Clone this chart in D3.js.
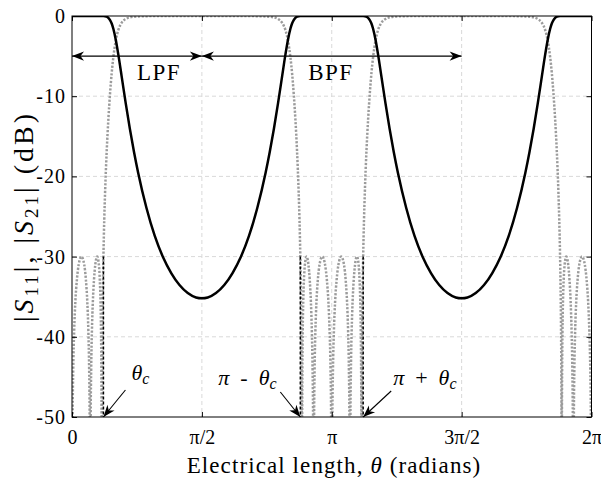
<!DOCTYPE html>
<html><head><meta charset="utf-8">
<script src="https://cdn.jsdelivr.net/npm/d3@7"></script>
<style>
html,body{margin:0;padding:0;background:#fff;}
svg{display:block;}
</style></head>
<body>
<svg id="c" width="601" height="481"></svg>
<script>
// ---------- DATA ----------
const xTickVals = [0, Math.PI/2, Math.PI, 3*Math.PI/2, 2*Math.PI];
const xTickLabels = ["0", "π/2", "π", "3π/2", "2π"];
const yTickVals = [0, -10, -20, -30, -40, -50];
const yTickLabels = ["0", "-10", "-20", "-30", "-40", "-50"];

// |S21| (dB), black solid
const s21Theta = [0,0.38,0.40,0.42,0.44,0.46,0.48,0.50,0.53,0.56,0.60,0.65,0.70,0.75,0.80,0.90,1.00,1.10,1.20,1.30,1.40,1.50,1.5708,
 1.6416,1.7416,1.8416,1.9416,2.0416,2.1416,2.2416,2.3416,2.3916,2.4416,2.4916,2.5416,2.5816,2.6116,2.6416,2.6616,2.6816,2.7016,2.7216,2.7416,2.7616,3.1416,
 3.5216,3.5416,3.5616,3.5816,3.6016,3.6216,3.6416,3.6716,3.7016,3.7416,3.7916,3.8416,3.8916,3.9416,4.0416,4.1416,4.2416,4.3416,4.4416,4.5416,4.6416,4.7124,
 4.7832,4.8832,4.9832,5.0832,5.1832,5.2832,5.3832,5.4832,5.5332,5.5832,5.6332,5.6832,5.7232,5.7532,5.7832,5.8032,5.8232,5.8432,5.8632,5.8832,5.9032,6.2832];
const s21Db = [0,0,-0.03,-0.09,-0.23,-0.50,-0.94,-1.59,-2.99,-4.79,-7.49,-10.90,-14.08,-16.96,-19.54,-23.91,-27.39,-30.05,-32.05,-33.55,-34.55,-35.1,-35.2,
 -35.1,-34.55,-33.55,-32.05,-30.05,-27.39,-23.91,-19.54,-16.96,-14.08,-10.90,-7.49,-4.79,-2.99,-1.59,-0.94,-0.50,-0.23,-0.09,-0.03,0,0,
 0,-0.03,-0.09,-0.23,-0.50,-0.94,-1.59,-2.99,-4.79,-7.49,-10.90,-14.08,-16.96,-19.54,-23.91,-27.39,-30.05,-32.05,-33.55,-34.55,-35.1,-35.2,
 -35.1,-34.55,-33.55,-32.05,-30.05,-27.39,-23.91,-19.54,-16.96,-14.08,-10.90,-7.49,-4.79,-2.99,-1.59,-0.94,-0.50,-0.23,-0.09,-0.03,0,0];

// |S11| (dB), gray dotted
const s11Theta = [
 0.0000,0.0022,0.0074,0.0148,0.0260,0.0407,0.0591,0.0810,0.1149,0.1478,0.1683,0.1848,0.1978,0.2074,0.2136,0.2179,0.2198,
 0.2216,0.2258,0.2319,0.2408,0.2523,0.2661,0.2819,0.3047,0.3250,0.3363,0.3449,0.3511,0.3553,0.3579,0.3597,0.3606,
 0.3614,0.3629,0.3651,0.3682,0.3717,0.3752,0.3782,0.3800,
 0.3900,0.4000,0.4200,0.4400,0.4600,0.4800,0.5000,0.5300,0.5600,0.6000,0.6500,0.7000,0.8000,0.9000,1.0000,1.5708,
 2.1416,2.2416,2.3416,2.4416,2.4916,2.5416,2.5816,2.6116,2.6416,2.6616,2.6816,2.7016,2.7216,2.7416,2.7516,2.7616,
 2.7634,2.7664,2.7699,2.7734,2.7765,2.7787,2.7802,2.7810,2.7819,2.7837,2.7863,2.7905,2.7967,2.8053,2.8166,2.8369,
 2.8597,2.8755,2.8893,2.9008,2.9097,2.9158,2.9200,2.9218,2.9237,2.9280,2.9342,2.9438,2.9568,2.9733,2.9938,3.0267,
 3.0606,3.0825,3.1009,3.1156,3.1268,3.1342,3.1394,3.1416,3.1438,3.1490,3.1564,3.1676,3.1823,3.2007,3.2226,3.2565,
 3.2894,3.3099,3.3264,3.3394,3.3490,3.3552,3.3595,3.3614,3.3632,3.3674,3.3735,3.3824,3.3939,3.4077,3.4235,3.4463,
 3.4666,3.4779,3.4865,3.4927,3.4969,3.4995,3.5013,3.5022,3.5030,3.5045,3.5067,3.5098,3.5133,3.5168,3.5198,3.5216,
 3.5316,3.5416,3.5616,3.5816,3.6016,3.6216,3.6416,3.6716,3.7016,3.7416,3.7916,3.8416,3.9416,4.0416,4.1416,4.7124,
 5.2832,5.3832,5.4832,5.5832,5.6332,5.6832,5.7232,5.7532,5.7832,5.8032,5.8232,5.8432,5.8632,5.8832,5.8932,5.9032,
 5.9050,5.9080,5.9115,5.9150,5.9181,5.9203,5.9218,5.9226,5.9235,5.9253,5.9279,5.9321,5.9383,5.9469,5.9582,5.9785,
 6.0013,6.0171,6.0309,6.0424,6.0513,6.0574,6.0616,6.0634,6.0653,6.0696,6.0758,6.0854,6.0984,6.1149,6.1354,6.1683,
 6.2022,6.2241,6.2425,6.2572,6.2684,6.2758,6.2810,6.2832];
const s11Db = [
 -80,-60.5,-50.0,-44.0,-39.3,-35.6,-32.9,-31.0,-30.0,-31.0,-32.9,-35.6,-39.3,-44.0,-50.0,-60.5,-80,
 -60.5,-50.0,-44.0,-39.3,-35.6,-32.9,-31.0,-30.0,-31.0,-32.9,-35.6,-39.3,-44.0,-50.0,-60.5,-80,
 -60.5,-50.0,-44.0,-39.3,-35.6,-32.9,-31.0,-30.0,
 -25.43,-22.02,-16.79,-12.84,-9.68,-7.12,-5.14,-3.04,-1.75,-0.85,-0.37,-0.17,-0.05,-0.02,-0.01,0,
 -0.01,-0.02,-0.05,-0.17,-0.37,-0.85,-1.75,-3.04,-5.14,-7.12,-9.68,-12.84,-16.79,-22.02,-25.43,-30.0,
 -31.0,-32.9,-35.6,-39.3,-44.0,-50.0,-60.5,-80,-60.5,-50.0,-44.0,-39.3,-35.6,-32.9,-31.0,-30.0,
 -31.0,-32.9,-35.6,-39.3,-44.0,-50.0,-60.5,-80,-60.5,-50.0,-44.0,-39.3,-35.6,-32.9,-31.0,-30.0,
 -31.0,-32.9,-35.6,-39.3,-44.0,-50.0,-60.5,-80,-60.5,-50.0,-44.0,-39.3,-35.6,-32.9,-31.0,-30.0,
 -31.0,-32.9,-35.6,-39.3,-44.0,-50.0,-60.5,-80,-60.5,-50.0,-44.0,-39.3,-35.6,-32.9,-31.0,-30.0,
 -31.0,-32.9,-35.6,-39.3,-44.0,-50.0,-60.5,-80,-60.5,-50.0,-44.0,-39.3,-35.6,-32.9,-31.0,-30.0,
 -25.43,-22.02,-16.79,-12.84,-9.68,-7.12,-5.14,-3.04,-1.75,-0.85,-0.37,-0.17,-0.05,-0.02,-0.01,0,
 -0.01,-0.02,-0.05,-0.17,-0.37,-0.85,-1.75,-3.04,-5.14,-7.12,-9.68,-12.84,-16.79,-22.02,-25.43,-30.0,
 -31.0,-32.9,-35.6,-39.3,-44.0,-50.0,-60.5,-80,-60.5,-50.0,-44.0,-39.3,-35.6,-32.9,-31.0,-30.0,
 -31.0,-32.9,-35.6,-39.3,-44.0,-50.0,-60.5,-80,-60.5,-50.0,-44.0,-39.3,-35.6,-32.9,-31.0,-30.0,
 -31.0,-32.9,-35.6,-39.3,-44.0,-50.0,-60.5,-80];

// cutoff markers (θc, π-θc, π+θc) drawn from -30 dB to -50 dB
const cutTheta = [0.38, 2.7616, 3.5216];
const cutTop = -30;
const cutLabels = [["θ", "c"], ["π - θ", "c"], ["π + θ", "c"]];

// band arrows at -5 dB
const bandFrom = [0, Math.PI/2];
const bandTo = [Math.PI/2, 3*Math.PI/2];
const bandNames = ["LPF", "BPF"];
const bandLevel = -5;

// ---------- CHART ----------
const FONT = '"Liberation Serif"';
const ff = s => s.style("font-family", FONT);
const svg = d3.select("#c");
const L = 72, R = 591.5, T = 16, B = 417;
const x = d3.scaleLinear().domain([0, 2*Math.PI]).range([L, R]);
const y = d3.scaleLinear().domain([-50, 0]).range([B, T]);

const defs = svg.append("defs");
defs.append("clipPath").attr("id", "clip")
  .append("rect").attr("x", L).attr("y", T).attr("width", R-L).attr("height", B-T);
defs.append("marker").attr("id", "ah").attr("viewBox", "-13 -6 14 12")
  .attr("refX", 0).attr("refY", 0).attr("markerWidth", 14).attr("markerHeight", 12)
  .attr("markerUnits", "userSpaceOnUse").attr("orient", "auto-start-reverse")
  .append("path").attr("d", "M0,0 L-12,-4.6 L-8.5,0 L-12,4.6 Z").attr("fill", "#000");

// grid
const grid = svg.append("g").attr("stroke", "#d9d9d9").attr("stroke-width", 1).attr("stroke-dasharray", "4,3");
grid.selectAll(".gx").data(xTickVals.slice(1, -1)).join("line")
  .attr("x1", d => x(d)).attr("x2", d => x(d)).attr("y1", T).attr("y2", B);
grid.selectAll(".gy").data(yTickVals.slice(1, -1)).join("line")
  .attr("x1", L).attr("x2", R).attr("y1", d => y(d)).attr("y2", d => y(d));

const plot = svg.append("g").attr("clip-path", "url(#clip)");

const s11 = s11Theta.map((t, i) => [t, s11Db[i]]);
const s21 = s21Theta.map((t, i) => [t, s21Db[i]]);
const line = d3.line().x(d => x(d[0])).y(d => y(d[1])).curve(d3.curveMonotoneX);

plot.append("path").datum(s11).attr("d", line).attr("fill", "none")
  .attr("stroke", "#9c9c9c").attr("stroke-width", 2.5).attr("stroke-dasharray", "2.2,1.6");

plot.selectAll(".cut").data(cutTheta).join("line")
  .attr("x1", d => x(d)).attr("x2", d => x(d)).attr("y1", y(cutTop)).attr("y2", y(-50))
  .attr("stroke", "#000").attr("stroke-width", 1.5).attr("stroke-dasharray", "3,2");

plot.append("path").datum(s21).attr("d", line).attr("fill", "none")
  .attr("stroke", "#000").attr("stroke-width", 2.5);

// axes (ticks inward on all sides)
const ax = svg.append("g").attr("transform", `translate(0,${B})`)
  .call(d3.axisBottom(x).tickValues(xTickVals).tickFormat((d, i) => xTickLabels[i]).tickSizeInner(-5).tickSizeOuter(0).tickPadding(13));
const ay = svg.append("g").attr("transform", `translate(${L},0)`)
  .call(d3.axisLeft(y).tickValues(yTickVals).tickFormat((d, i) => yTickLabels[i]).tickSizeInner(-5).tickSizeOuter(0).tickPadding(6));
const at = svg.append("g").attr("transform", `translate(0,${T})`)
  .call(d3.axisTop(x).tickValues(xTickVals).tickFormat("").tickSizeInner(-5).tickSizeOuter(0));
const ar = svg.append("g").attr("transform", `translate(${R},0)`)
  .call(d3.axisRight(y).tickValues(yTickVals).tickFormat("").tickSizeInner(-5).tickSizeOuter(0));
[ax, ay, at, ar].forEach(g => {
  g.attr("font-family", null).attr("font-size", null);
  g.select(".domain").remove();
  g.selectAll("line").attr("stroke", "#000").attr("stroke-width", 1);
  ff(g.selectAll("text")).style("font-size", "20px").attr("fill", "#000");
});
ay.selectAll("text").style("letter-spacing", "1px");
// keep last x tick label inside the picture
ax.selectAll("text").filter((d, i) => i === xTickLabels.length - 1).attr("text-anchor", "end").attr("dx", "10px");
svg.append("rect").attr("x", L).attr("y", T).attr("width", R-L).attr("height", B-T)
  .attr("fill", "none").attr("stroke", "#000").attr("stroke-width", 1);

// axis titles
ff(svg.append("text")).attr("x", 334).attr("y", 473).attr("text-anchor", "middle")
  .style("font-size", "23px").style("letter-spacing", "1.1px")
  .html('Electrical length, <tspan font-style="italic">θ</tspan> (radians)');
const yl = ff(svg.append("text")).attr("transform", `translate(33,${(T+B)/2}) rotate(-90)`)
  .attr("text-anchor", "middle").style("font-size", "28px").style("letter-spacing", "3px");
yl.html('|<tspan font-style="italic">S</tspan><tspan font-size="19" dy="5">11</tspan><tspan dy="-5">|, |</tspan><tspan font-style="italic">S</tspan><tspan font-size="19" dy="5">21</tspan><tspan dy="-5">| (dB)</tspan>');

// band arrows
const bands = svg.append("g");
bandNames.forEach((n, i) => {
  bands.append("line").attr("x1", x(bandFrom[i])).attr("x2", x(bandTo[i]))
    .attr("y1", y(bandLevel)).attr("y2", y(bandLevel))
    .attr("stroke", "#000").attr("stroke-width", 1.1)
    .attr("marker-start", "url(#ah)").attr("marker-end", "url(#ah)");
});
ff(bands.selectAll("text").data(bandNames).join("text"))
  .attr("x", (d, i) => i === 0 ? x(1.04) + 1 : x(3.12) + 1).attr("y", y(-8))
  .attr("text-anchor", "middle").style("font-size", "23px").style("letter-spacing", "1.5px").text(d => d);

// cutoff annotations
const tailOff = [[22, -27], [-20, -25], [28, -26]];
const textOff = [[28, -37], [-82, -32], [30, -32]];
const ann = svg.append("g");
cutTheta.forEach((t, i) => {
  const tx = x(t), ty = y(-50);
  ann.append("line").attr("x1", tx + tailOff[i][0]).attr("y1", ty + tailOff[i][1])
    .attr("x2", tx).attr("y2", ty).attr("stroke", "#000").attr("stroke-width", 1.1)
    .attr("marker-end", "url(#ah)");
  const tt = ff(ann.append("text")).attr("x", tx + textOff[i][0]).attr("y", ty + textOff[i][1])
    .style("font-size", "22px").attr("xml:space", "preserve");
  const parts = cutLabels[i][0];
  if (parts.length > 1) {
    tt.append("tspan").attr("font-style", "italic").text("π");
    tt.append("tspan").text(parts.indexOf("+") >= 0 ? "  +  " : "  -  ");
    tt.append("tspan").attr("font-style", "italic").text("θ");
  } else {
    tt.append("tspan").attr("font-style", "italic").text("θ");
  }
  tt.append("tspan").attr("font-style", "italic").attr("font-size", 16).attr("dy", 4).text(cutLabels[i][1]);
});
</script>
</body></html>
